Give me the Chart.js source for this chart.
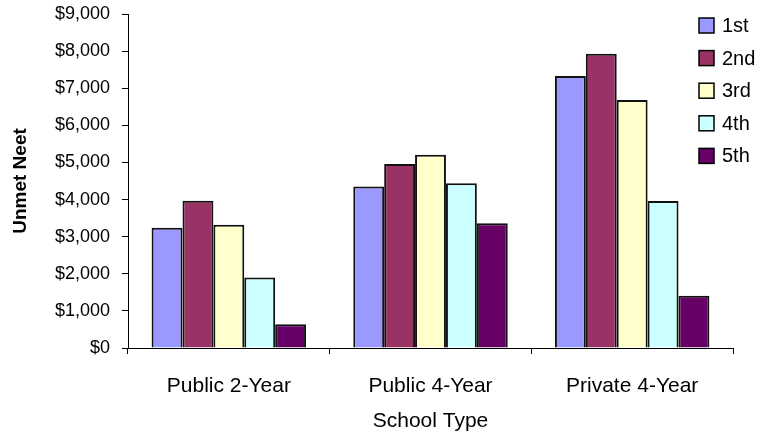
<!DOCTYPE html>
<html>
<head>
<meta charset="utf-8">
<script src="https://cdn.jsdelivr.net/npm/chart.js@4.4.1/dist/chart.umd.min.js"></script>
<style>
  html, body { margin: 0; padding: 0; background: #ffffff; }
  #wrap { width: 771px; height: 440px; position: relative; }
</style>
</head>
<body>
<div id="wrap"><canvas id="chart"></canvas></div>
<script>
// School types along the x axis
const categories = ['Public 2-Year', 'Public 4-Year', 'Private 4-Year'];

// Unmet need by quintile, in dollars
const seriesNames = ['1st', '2nd', '3rd', '4th', '5th'];
const first  = [3240, 4350, 7330];
const second = [3970, 4960, 7930];
const third  = [3320, 5210, 6680];
const fourth = [1900, 4440, 3960];
const fifth  = [640, 3360, 1410];

const yTicks = [0, 1000, 2000, 3000, 4000, 5000, 6000, 7000, 8000, 9000];

const fills = ['#9999FF', '#993366', '#FFFFCC', '#CCFFFF', '#660066'];
const seriesValues = [first, second, third, fourth, fifth];

const FONT = "'Liberation Sans', Arial, Helvetica, sans-serif";

// Legend drawn as a column in the upper right, overlapping the plot area
const sideLegend = {
  id: 'sideLegend',
  afterDraw(chart) {
    const ctx = chart.ctx;
    const x0 = chart.width - 72;
    const size = 15;
    ctx.save();
    ctx.font = '20px ' + FONT;
    ctx.textBaseline = 'middle';
    ctx.textAlign = 'left';
    chart.data.datasets.forEach((ds, i) => {
      const cy = 25.5 + i * 32.6;
      ctx.fillStyle = ds.backgroundColor;
      ctx.fillRect(x0, cy - size / 2, size, size);
      ctx.lineWidth = 1.5;
      ctx.strokeStyle = '#000';
      ctx.strokeRect(x0, cy - size / 2, size, size);
      ctx.fillStyle = '#000';
      ctx.fillText(ds.label, x0 + 23, cy + 1);
    });
    ctx.restore();
  }
};

new Chart(document.getElementById('chart'), {
  type: 'bar',
  data: {
    labels: categories,
    datasets: seriesNames.map((name, i) => ({
      label: name,
      data: seriesValues[i],
      backgroundColor: fills[i],
      borderColor: '#111111',
      borderWidth: 2,
      categoryPercentage: 0.766,
      barPercentage: 1.0
    }))
  },
  options: {
    responsive: true,
    maintainAspectRatio: false,
    animation: false,
    layout: { padding: { top: 14, right: 38, bottom: 0, left: 0 } },
    plugins: {
      legend: { display: false },
      tooltip: { enabled: false }
    },
    scales: {
      x: {
        offset: true,
        grid: {
          offset: true,
          display: true,
          drawOnChartArea: false,
          drawTicks: true,
          tickLength: 6,
          color: '#000'
        },
        border: { display: true, color: '#000', width: 1 },
        ticks: {
          color: '#000',
          padding: 20,
          maxRotation: 0,
          font: { family: FONT, size: 21 }
        },
        title: {
          display: true,
          text: 'School Type',
          color: '#000',
          padding: { top: 0, bottom: 6 },
          font: { family: FONT, size: 21 }
        },
        afterFit(scale) {
          scale.height = 92;
          scale.paddingLeft = 0;
          scale.paddingRight = 0;
        }
      },
      y: {
        min: 0,
        max: 9000,
        afterBuildTicks(scale) { scale.ticks = yTicks.map(v => ({ value: v })); },
        grid: {
          display: true,
          drawOnChartArea: false,
          drawTicks: true,
          tickLength: 6,
          color: '#000'
        },
        border: { display: true, color: '#000', width: 1 },
        ticks: {
          color: '#000',
          padding: 12,
          font: { family: FONT, size: 18 },
          callback: v => '$' + Number(v).toLocaleString('en-US')
        },
        title: {
          display: true,
          text: 'Unmet Neet',
          color: '#000',
          padding: { top: 9, bottom: 0 },
          font: { family: FONT, size: 19, weight: 'bold' }
        },
        afterFit(scale) {
          scale.width = 128;
          scale.paddingTop = 0;
          scale.paddingBottom = 0;
        }
      }
    }
  },
  plugins: [sideLegend]
});
</script>
</body>
</html>
